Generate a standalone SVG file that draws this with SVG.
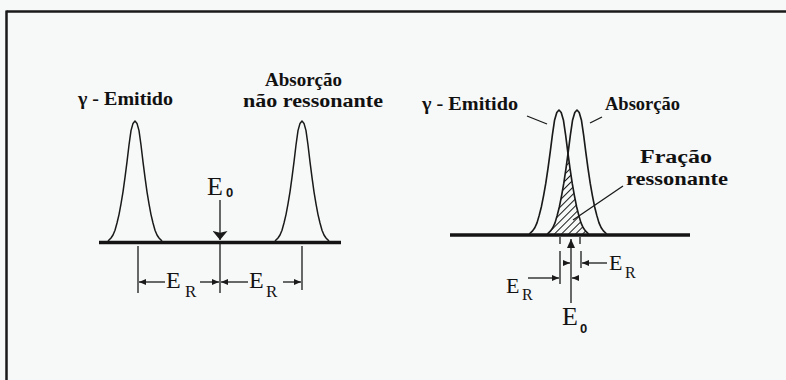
<svg xmlns="http://www.w3.org/2000/svg" width="786" height="380" viewBox="0 0 786 380">
<style>
.lbl{font-family:"Liberation Serif","Times New Roman",serif;font-weight:bold;font-size:18px;fill:#111}
.e{font-family:"Liberation Serif","Times New Roman",serif;fill:#141414}
.z{font-family:"Liberation Sans",Arial,sans-serif;font-weight:bold;fill:#141414}
.peak{fill:none;stroke:#1a1a1a;stroke-width:1.5;stroke-linejoin:round}
.base{stroke:#141414;stroke-width:3.5}
.thin{stroke:#1a1a1a;stroke-width:1.3;fill:none}
.dim{stroke:#1a1a1a;stroke-width:1.3;fill:none;marker-end:url(#arr)}
</style>
<defs>
<marker id="arr" viewBox="0 0 10 10" preserveAspectRatio="none" refX="10" refY="5" markerWidth="7" markerHeight="6" markerUnits="userSpaceOnUse" orient="auto">
<path d="M0,0 L10,5 L0,10 z" fill="#1a1a1a"/>
</marker>
<marker id="big" viewBox="0 0 10 10" preserveAspectRatio="none" refX="10" refY="5" markerWidth="9" markerHeight="15" markerUnits="userSpaceOnUse" orient="auto">
<path d="M0,0 L10,5 L0,10 L2,5 z" fill="#1a1a1a"/>
</marker>
<marker id="up" viewBox="0 0 10 10" preserveAspectRatio="none" refX="10" refY="5" markerWidth="9" markerHeight="8" markerUnits="userSpaceOnUse" orient="auto">
<path d="M0,0 L10,5 L0,10 z" fill="#1a1a1a"/>
</marker>
<path id="pk" d="M-27,0 L-24,-3 L-22,-6 L-20,-10.8 L-18,-18 L-16,-26.4 L-14,-37.2 L-12,-49.2 L-10,-63.6 L-8,-79.2 L-6,-96 L-4,-110.4 L-2,-117.6 L0,-120 L2,-117.6 L4,-110.4 L6,-96 L8,-79.2 L10,-63.6 L12,-49.2 L14,-37.2 L16,-26.4 L18,-18 L20,-10.8 L22,-6 L24,-3 L27,0"/>
<pattern id="hatch" width="5" height="5" patternUnits="userSpaceOnUse" patternTransform="rotate(45)">
<line x1="2.5" y1="0" x2="2.5" y2="5" stroke="#1a1a1a" stroke-width="1"/>
</pattern>
</defs>
<rect x="0" y="0" width="786" height="380" fill="#f7f8f8"/>
<g id="frame">
<line x1="6.5" y1="11.5" x2="786" y2="11.5" stroke="#1a1a1a" stroke-width="2.5"/>
<line x1="6.5" y1="10.5" x2="6.5" y2="380" stroke="#1a1a1a" stroke-width="2.5"/>
</g>

<g id="left-axis">
<line class="base" x1="99" y1="242.5" x2="341" y2="242.5"/>
</g>
<g id="left-emitted">
<use href="#pk" class="peak" transform="translate(135,241)"/>
<text class="lbl" x="78" y="105" textLength="95" lengthAdjust="spacingAndGlyphs">γ - Emitido</text>
</g>
<g id="left-absorption">
<use href="#pk" class="peak" transform="translate(302,241)"/>
<text class="lbl" x="265" y="86" textLength="77" lengthAdjust="spacingAndGlyphs">Absorção</text>
<text class="lbl" x="243" y="107" textLength="140" lengthAdjust="spacingAndGlyphs">não ressonante</text>
</g>
<g id="left-e0">
<text class="e" x="207" y="195" font-size="26">E</text>
<text class="z" x="226" y="197" font-size="13">0</text>
</g>
<g id="left-er1">
<text class="e" x="166" y="288" font-size="24">E</text>
<text class="e" x="185" y="297" font-size="17">R</text>
</g>
<g id="left-er2">
<text class="e" x="249" y="288" font-size="24">E</text>
<text class="e" x="266" y="297" font-size="17">R</text>
</g>

<g id="right-axis">
<line class="base" x1="450" y1="235" x2="690" y2="235"/>
</g>
<g id="right-overlap">
<polygon points="547.3,234 550.6,230.9 552.8,227.8 555,222.8 557.2,215.4 559.4,206.7 561.6,195.6 563.8,183.2 566,168.3 568,154 570,168.3 572.2,183.2 574.4,195.6 576.6,206.7 578.8,215.4 581,222.8 583.2,227.8 585.4,230.9 588.7,234" fill="url(#hatch)" stroke="none"/>
<text class="lbl" x="640" y="163" textLength="72" lengthAdjust="spacingAndGlyphs">Fração</text>
<text class="lbl" x="626" y="185" textLength="102" lengthAdjust="spacingAndGlyphs">ressonante</text>
</g>
<g id="right-emitted">
<use href="#pk" class="peak" vector-effect="non-scaling-stroke" transform="translate(559,234) scale(1.1,1.033)"/>
<text class="lbl" x="422" y="110" textLength="96" lengthAdjust="spacingAndGlyphs">γ - Emitido</text>
</g>
<g id="right-absorption">
<use href="#pk" class="peak" vector-effect="non-scaling-stroke" transform="translate(577,234) scale(1.1,1.033)"/>
<text class="lbl" x="605" y="110" textLength="75" lengthAdjust="spacingAndGlyphs">Absorção</text>
</g>
<g id="right-e0">
<text class="e" x="562" y="325" font-size="26">E</text>
<text class="z" x="580" y="333" font-size="13">0</text>
</g>
<g id="right-er1">
<text class="e" x="506" y="293" font-size="22">E</text>
<text class="e" x="522" y="300" font-size="16">R</text>
</g>
<g id="right-er2">
<text class="e" x="609" y="270" font-size="22">E</text>
<text class="e" x="625" y="278" font-size="16">R</text>
</g>

<g id="connectors">
<!-- left -->
<line class="thin" x1="220" y1="200" x2="220" y2="240" marker-end="url(#big)"/>
<line class="thin" x1="220" y1="243" x2="220" y2="293"/>
<line class="thin" x1="138" y1="246" x2="138" y2="293"/>
<line class="thin" x1="302" y1="246" x2="302" y2="290"/>
<line class="dim" x1="165" y1="282" x2="139" y2="282"/>
<line class="dim" x1="200" y1="282" x2="219" y2="282"/>
<line class="dim" x1="248" y1="282" x2="221" y2="282"/>
<line class="dim" x1="283" y1="282" x2="301" y2="282"/>
<!-- right -->
<line class="thin" x1="527" y1="116" x2="547" y2="124"/>
<line class="thin" x1="590" y1="123" x2="602" y2="117"/>
<line class="thin" x1="623" y1="186" x2="573" y2="220"/>
<line class="thin" x1="571" y1="303" x2="571" y2="239" marker-end="url(#up)"/>
<line class="thin" x1="560" y1="237" x2="560" y2="244"/>
<line class="thin" x1="580" y1="237" x2="580" y2="244"/>
<line class="thin" x1="560" y1="251" x2="560" y2="284"/>
<line class="thin" x1="581" y1="251" x2="581" y2="268"/>
<line class="dim" x1="528" y1="278" x2="559" y2="278"/>
<line class="dim" x1="578" y1="278" x2="572" y2="278"/>
<line class="dim" x1="607" y1="263" x2="582" y2="263"/>
<line class="dim" x1="564" y1="263" x2="570" y2="263"/>
</g>
</svg>
